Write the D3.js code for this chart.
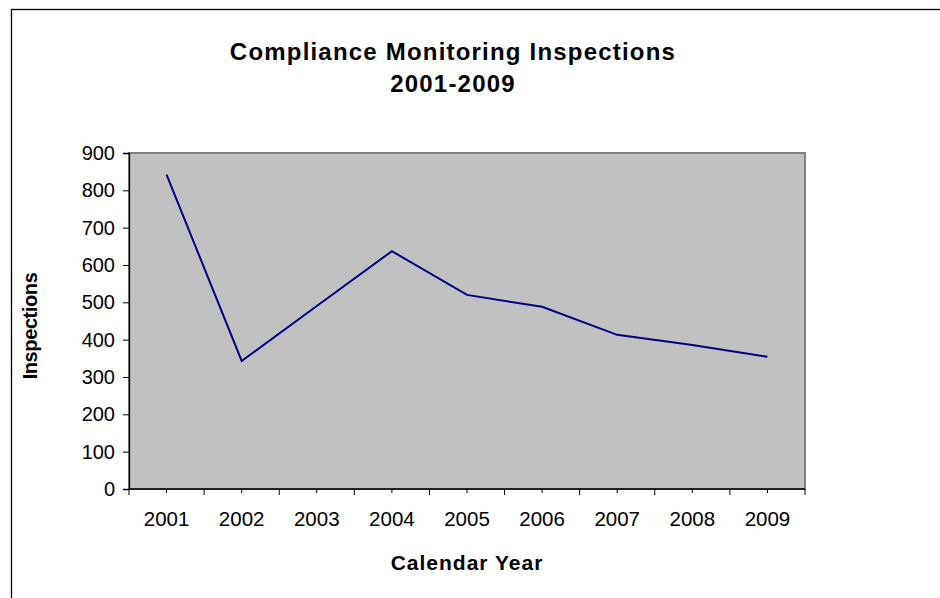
<!DOCTYPE html>
<html>
<head>
<meta charset="utf-8">
<script src="https://cdn.jsdelivr.net/npm/d3@7"></script>
<style>
  body { margin: 0; background: #fff; }
  svg text { font-family: "Liberation Sans", Arial, sans-serif; fill: #000; }
</style>
</head>
<body>
<svg id="chart" width="940" height="598"></svg>
<script>
'use strict';

let years = ["2001", "2002", "2003", "2004", "2005", "2006", "2007", "2008", "2009"]
let inspections = [842, 343, 490, 637, 520, 488, 413, 386, 354]
let yTicks = [0, 100, 200, 300, 400, 500, 600, 700, 800, 900]

let svg = d3.select("#chart")
let plot = { left: 129, top: 153, right: 805, bottom: 489 }

// outer chart frame (only left/top edges visible)
svg.append("rect")
    .attr("x", 11.5).attr("y", 9.5)
    .attr("width", 1000).attr("height", 700)
    .attr("fill", "none").attr("stroke", "#000").attr("stroke-width", 1.3)

let x = d3.scaleBand().domain(years).range([plot.left, plot.right])
let y = d3.scaleLinear().domain([0, 900]).range([plot.bottom, plot.top])

svg.append("rect")
    .attr("x", plot.left).attr("y", plot.top)
    .attr("width", plot.right - plot.left).attr("height", plot.bottom - plot.top)
    .attr("fill", "#c0c0c0").attr("stroke", "#808080").attr("stroke-width", 2)

// y axis
let yAxis = svg.append("g")
    .attr("transform", "translate(" + plot.left + ",0)")
    .call(d3.axisLeft(y).tickValues(yTicks).tickSize(6).tickPadding(8))
yAxis.select(".domain").attr("stroke", "#000").attr("stroke-width", 1.3)
yAxis.selectAll("line").attr("stroke", "#000")
yAxis.selectAll("text").style("font-size", "20px").attr("fill", "#000")

// x axis: major ticks at category boundaries, minor at centres
let xAxisG = svg.append("g").attr("transform", "translate(0," + plot.bottom + ")")
xAxisG.append("line")
    .attr("x1", plot.left).attr("x2", plot.right)
    .attr("stroke", "#000").attr("stroke-width", 1.3)
let bounds = years.map(d => x(d)).concat([x.range()[1]])
xAxisG.selectAll(".major").data(bounds).enter().append("line")
    .attr("x1", d => d).attr("x2", d => d).attr("y1", 0).attr("y2", 6)
    .attr("stroke", "#000")
xAxisG.selectAll(".minor").data(years).enter().append("line")
    .attr("x1", d => x(d) + x.bandwidth() / 2).attr("x2", d => x(d) + x.bandwidth() / 2)
    .attr("y1", 0).attr("y2", 4)
    .attr("stroke", "#000")
xAxisG.selectAll("text").data(years).enter().append("text")
    .attr("x", d => x(d) + x.bandwidth() / 2)
    .attr("y", 37)
    .attr("text-anchor", "middle")
    .style("font-size", "20.5px")
    .text(d => d)

// line
let line = d3.line()
    .x((d, i) => x(years[i]) + x.bandwidth() / 2)
    .y(d => y(d))
svg.append("path")
    .datum(inspections)
    .attr("d", line)
    .attr("fill", "none")
    .attr("stroke", "#000080")
    .attr("stroke-width", 2)

// titles
svg.append("text")
    .attr("x", 453).attr("y", 60)
    .attr("text-anchor", "middle")
    .style("font-size", "24px").style("font-weight", "bold").style("letter-spacing", "1.2px")
    .text("Compliance Monitoring Inspections")
svg.append("text")
    .attr("x", 453).attr("y", 92)
    .attr("text-anchor", "middle")
    .style("font-size", "24px").style("font-weight", "bold").style("letter-spacing", "1.2px")
    .text("2001-2009")

svg.append("text")
    .attr("x", (plot.left + plot.right) / 2).attr("y", 570)
    .attr("text-anchor", "middle")
    .style("font-size", "21px").style("font-weight", "bold").style("letter-spacing", "1px")
    .text("Calendar Year")

svg.append("text")
    .attr("transform", "translate(37,326) rotate(-90)")
    .attr("text-anchor", "middle")
    .style("font-size", "20px").style("font-weight", "bold").style("letter-spacing", "-0.4px")
    .text("Inspections")
</script>
</body>
</html>
